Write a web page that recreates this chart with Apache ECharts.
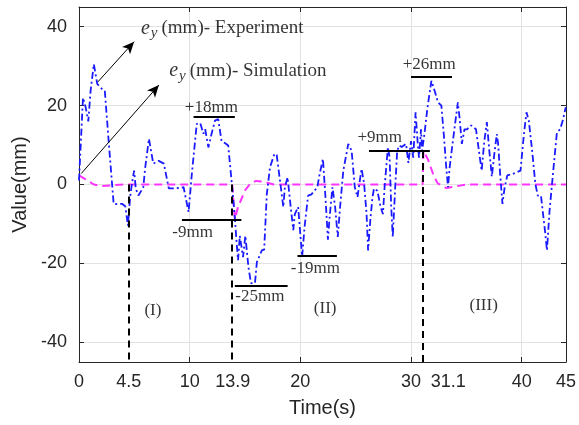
<!DOCTYPE html>
<html>
<head>
<meta charset="utf-8">
<script src="https://cdn.jsdelivr.net/npm/echarts@6/dist/echarts.min.js"></script>
<style>
  html, body { margin: 0; padding: 0; background: #fff; }
  #chart { width: 579px; height: 425px; }
</style>
</head>
<body>
<div id="chart"></div>
<script>
// experiment: time (s) / ey (mm)
const expTime = [0, 0.36, 0.6, 0.84, 1.05, 1.34, 1.65, 2.09, 2.33, 2.68, 3.13, 3.46, 3.88, 4.18, 4.42, 4.62, 4.78, 4.98, 5.13, 5.37,
  5.81, 5.97, 6.32, 6.71, 7.2, 7.67, 8.11, 8.71, 9.45, 9.9, 10.2, 10.64, 10.95, 11.24, 11.4, 11.69, 11.99, 12.29, 12.58, 12.88,
  13.18, 13.48, 13.84, 14.08, 14.22, 14.37, 14.53, 14.82, 15.03, 15.31, 15.54, 15.9, 16.07, 16.52, 16.73, 16.97, 17.26, 17.66, 17.86, 18.16,
  18.46, 18.6, 18.85, 19.05, 19.36, 19.5, 19.8, 20.16, 20.39, 20.7, 21.0, 21.53, 21.74, 22.04, 22.25, 22.49, 22.63, 22.9, 23.14, 23.38,
  23.59, 23.88, 24.33, 24.63, 24.92, 25.16, 25.53, 25.76, 25.98, 26.12, 26.33, 26.51, 26.65, 26.96, 27.25, 27.46, 27.61, 27.91, 28.06, 28.21,
  28.35, 28.57, 28.75, 28.95, 29.16, 29.55, 29.76, 30.0, 30.2, 30.41, 30.59, 30.72, 30.9, 31.0, 31.25, 31.48, 31.84, 32.15, 32.44, 32.74,
  32.98, 33.18, 33.34, 33.49, 33.78, 34.23, 34.38, 34.59, 34.83, 35.06, 35.42, 35.87, 36.17, 36.38, 36.62, 36.85, 37.07, 37.3, 37.56, 37.75,
  37.87, 38.05, 38.26, 38.46, 38.7, 39.3, 39.89, 40.2, 40.43, 40.64, 40.94, 41.23, 41.45, 41.74, 41.99, 42.13, 42.28, 42.52, 42.88, 43.18,
  43.47, 43.71, 43.98];
const expValue = [1, 22, 19.6, 16, 23.8, 30.5, 25.5, 24.2, 23.8, 11, -4.9, -5, -4.9, -5.5, -10.4, -3.2, 0.2, 3.5, -1, -2.8,
  -0.7, 4, 11.6, 5.3, 6, 5.3, -1, -1, -0.7, -7, 2.8, 15.4, 15.6, 12.9, 14, 9.4, 13, 16.2, 16.6, 11,
  10.5, 9.9, -0.7, -8.3, -14, -19.2, -13, -18.4, -13, -21, -25, -25, -19.7, -16.7, -16.5, -2.4, 4.4, 7.8, 7.5, 1,
  -5.7, -0.7, 1.8, -3.7, -11.6, -7.5, -5.7, -18.3, -10.5, -2.8, -2.5, -0.7, 2.6, 6.5, -2.4, -14, -8.7, -0.7, -5.7, -13.3,
  -5.7, 3.5, 10.3, 8.6, -0.7, -3.2, 4, 0.2, -7.4, -16.7, -8.7, -3.4, -1, -1.6, -5.7, -7.5, -0.7, 9.4, 7, -5.7,
  -13.3, -0.7, 8.6, 9.9, 9.5, 10.3, 5.5, 11, 6.8, 18.3, 11, 6.8, 14, 8.6, 13.7, 19.4, 26.3, 23.6, 20.8, 20,
  12, 4.4, -0.7, 4.4, 11, 20.8, 17, 10.3, 14, 14, 15, 14, 7.8, 3.5, 11, 15.8, 8.6, 2, 8.6, 12.8,
  10.3, 2.7, -4.9, -0.7, 2.3, 2.8, 3.5, 12.8, 18.3, 16.2, 8.6, 0.2, -2.8, -2.8, -9, -12.4, -16.7, -6.5, 4.4, 13.2,
  14, 16.2, 19.6];

// simulation: time (s) / ey (mm)
const simTime = [0, 0.6, 1.34, 2.1, 3, 4, 13.84, 14.08, 14.37, 15.0, 15.5, 16.0, 16.7, 17.6, 31.05, 31.12, 31.55, 32.0, 32.4, 33.2, 34.0, 35.0, 44];
const simValue = [2.3, 1.3, 0, -0.4, -0.2, 0, 0, -8.8, -5.7, -1.5, 0.3, 0.9, 0.7, 0, 0, 8.6, 6.2, 2.6, 0.3, -0.9, -0.5, 0, 0];

// axis ticks
const xTickValues = [0, 4.5, 10, 13.9, 20, 30, 31.1, 40, 44];
const xTickLabels = ['0', '4.5', '10', '13.9', '20', '30', '{r|31.1}', '40', '45'];
const xGridTicks = [10, 20, 30, 40];
const yTickValues = [-40, -20, 0, 20, 40];

// phase boundaries: time and the level where the dashed marker starts
const boundaryTime = [4.5, 13.84, 31.1];
const boundaryTop = [0, 0, 8.5];

// peak markers
const peakStart = [10.35, 9.3, 14.08, 19.74, 26.2, 30.0];
const peakEnd = [14.08, 14.67, 18.85, 23.3, 31.7, 33.7];
const peakLevel = [17.3, -8.9, -25.6, -18, 8.5, 27.2];
const peakText = ['+18mm', '-9mm', '-25mm', '-19mm', '+9mm', '+26mm'];
const peakTextX = [11.96, 10.26, 16.34, 21.35, 27.17, 31.64];
const peakTextY = [19.4, -12.2, -28.4, -21.2, 12.0, 30.3];

const phaseText = ['(I)', '(II)', '(III)'];
const phaseX = [6.68, 22.24, 36.56];
const phaseY = [-31.9, -31.4, -30.6];

// legend arrows and captions
const arrowFrom = [[1.7, 26.0], [0.21, 2.8]];
const arrowTo = [[4.98, 36.2], [7.22, 25.2]];
const captionText = ['(mm)- Experiment', '(mm)- Simulation'];
const captionX = [5.6, 8.15];
const captionY = [39.6, 28.8];

const serif = 'Liberation Serif';
const sans = 'Liberation Sans';
const axisColor = '#262626';

const chart = echarts.init(document.getElementById('chart'));

const markLines = [];
boundaryTime.forEach((t, i) => {
  markLines.push([
    { coord: [t, boundaryTop[i]], lineStyle: { color: '#000', width: 2, type: [7, 5] } },
    { coord: [t, -45] }
  ]);
});
peakStart.forEach((s, i) => {
  markLines.push([
    { coord: [s, peakLevel[i]], lineStyle: { color: '#000', width: 2, type: 'solid' } },
    { coord: [peakEnd[i], peakLevel[i]] }
  ]);
});
arrowFrom.forEach((p, i) => {
  markLines.push([
    { coord: p, symbol: 'none', lineStyle: { color: '#000', width: 1, type: 'solid' } },
    { coord: arrowTo[i], symbol: 'arrow', symbolSize: [8, 12] }
  ]);
});

const textData = peakText.map((txt, i) => ({ name: txt, value: [peakTextX[i], peakTextY[i]] }))
  .concat(phaseText.map((txt, i) => ({ name: txt, value: [phaseX[i], phaseY[i]] })));

const captionData = captionText.map((txt, i) => ({ name: txt, value: [captionX[i], captionY[i]] }));

const option = {
  animation: false,
  backgroundColor: '#fff',
  grid: { left: 79, right: 9, top: 7, bottom: 63 },
  xAxis: [
    {
      type: 'value', min: 0, max: 44, interval: 10, position: 'bottom',
      name: 'Time(s)', nameLocation: 'middle', nameGap: 36,
      nameTextStyle: { fontFamily: sans, fontSize: 20, color: axisColor },
      axisLine: { show: true, onZero: false, lineStyle: { color: axisColor, width: 1 } },
      axisTick: { show: true, inside: true, length: 5, customValues: xGridTicks, lineStyle: { color: axisColor } },
      axisLabel: {
        customValues: xTickValues,
        formatter: v => {
          const k = xTickValues.findIndex(x => Math.abs(x - v) < 1e-6);
          return k >= 0 ? xTickLabels[k] : '';
        },
        rich: { r: { padding: [0, 0, 0, 50] } },
        color: axisColor, fontFamily: sans, fontSize: 18, margin: 11
      },
      splitLine: { show: true, lineStyle: { color: '#e2e2e2', width: 1 } }
    },
    {
      type: 'value', min: 0, max: 44, interval: 10, position: 'top',
      axisLine: { show: true, onZero: false, lineStyle: { color: axisColor, width: 1 } },
      axisTick: { show: true, inside: true, length: 5, customValues: xGridTicks, lineStyle: { color: axisColor } },
      axisLabel: { show: false },
      splitLine: { show: false }
    }
  ],
  yAxis: [
    {
      type: 'value', min: -45, max: 45, position: 'left',
      name: 'Value(mm)', nameLocation: 'middle', nameGap: 48,
      nameTextStyle: { fontFamily: sans, fontSize: 20, color: axisColor },
      axisLine: { show: true, onZero: false, lineStyle: { color: axisColor, width: 1 } },
      axisTick: { show: true, inside: true, length: 5, customValues: yTickValues, lineStyle: { color: axisColor } },
      axisLabel: { customValues: yTickValues, color: axisColor, fontFamily: sans, fontSize: 18, margin: 12 },
      splitLine: { show: true, lineStyle: { color: '#e2e2e2', width: 1 } }
    },
    {
      type: 'value', min: -45, max: 45, position: 'right',
      axisLine: { show: true, onZero: false, lineStyle: { color: axisColor, width: 1 } },
      axisTick: { show: true, inside: true, length: 5, customValues: yTickValues, lineStyle: { color: axisColor } },
      axisLabel: { show: false },
      splitLine: { show: false }
    }
  ],
  series: [
    {
      name: 'Simulation', type: 'line', z: 3,
      data: simTime.map((t, i) => [t, simValue[i]]),
      showSymbol: false,
      lineStyle: { color: '#ff33ff', width: 2, type: [8, 5] }
    },
    {
      name: 'Experiment', type: 'line', z: 4,
      data: expTime.map((t, i) => [t, expValue[i]]),
      showSymbol: false,
      lineStyle: { color: '#1a1aff', width: 1.8, type: [7, 3, 2, 3] }
    },
    {
      name: 'marks', type: 'line', z: 5, data: [],
      markLine: {
        silent: true, symbol: ['none', 'none'],
        label: { show: false },
        data: markLines
      }
    },
    {
      name: 'notes', type: 'scatter', z: 6, symbolSize: 0,
      data: textData,
      label: {
        show: true, position: 'inside', formatter: p => p.name,
        color: '#000', fontFamily: serif, fontSize: 17
      }
    },
    {
      name: 'captions', type: 'scatter', z: 6, symbolSize: 0,
      data: captionData,
      label: {
        show: true, position: 'inside', align: 'left',
        formatter: p => '{e|e}{s|y}{n|' + p.name + '}',
        rich: {
          e: { fontFamily: serif, fontStyle: 'italic', fontSize: 20, color: '#000' },
          s: { fontFamily: serif, fontStyle: 'italic', fontSize: 15, color: '#000', padding: [10, 4, 0, 1] },
          n: { fontFamily: serif, fontSize: 19, color: '#000' }
        }
      }
    }
  ]
};

chart.setOption(option);
</script>
</body>
</html>
